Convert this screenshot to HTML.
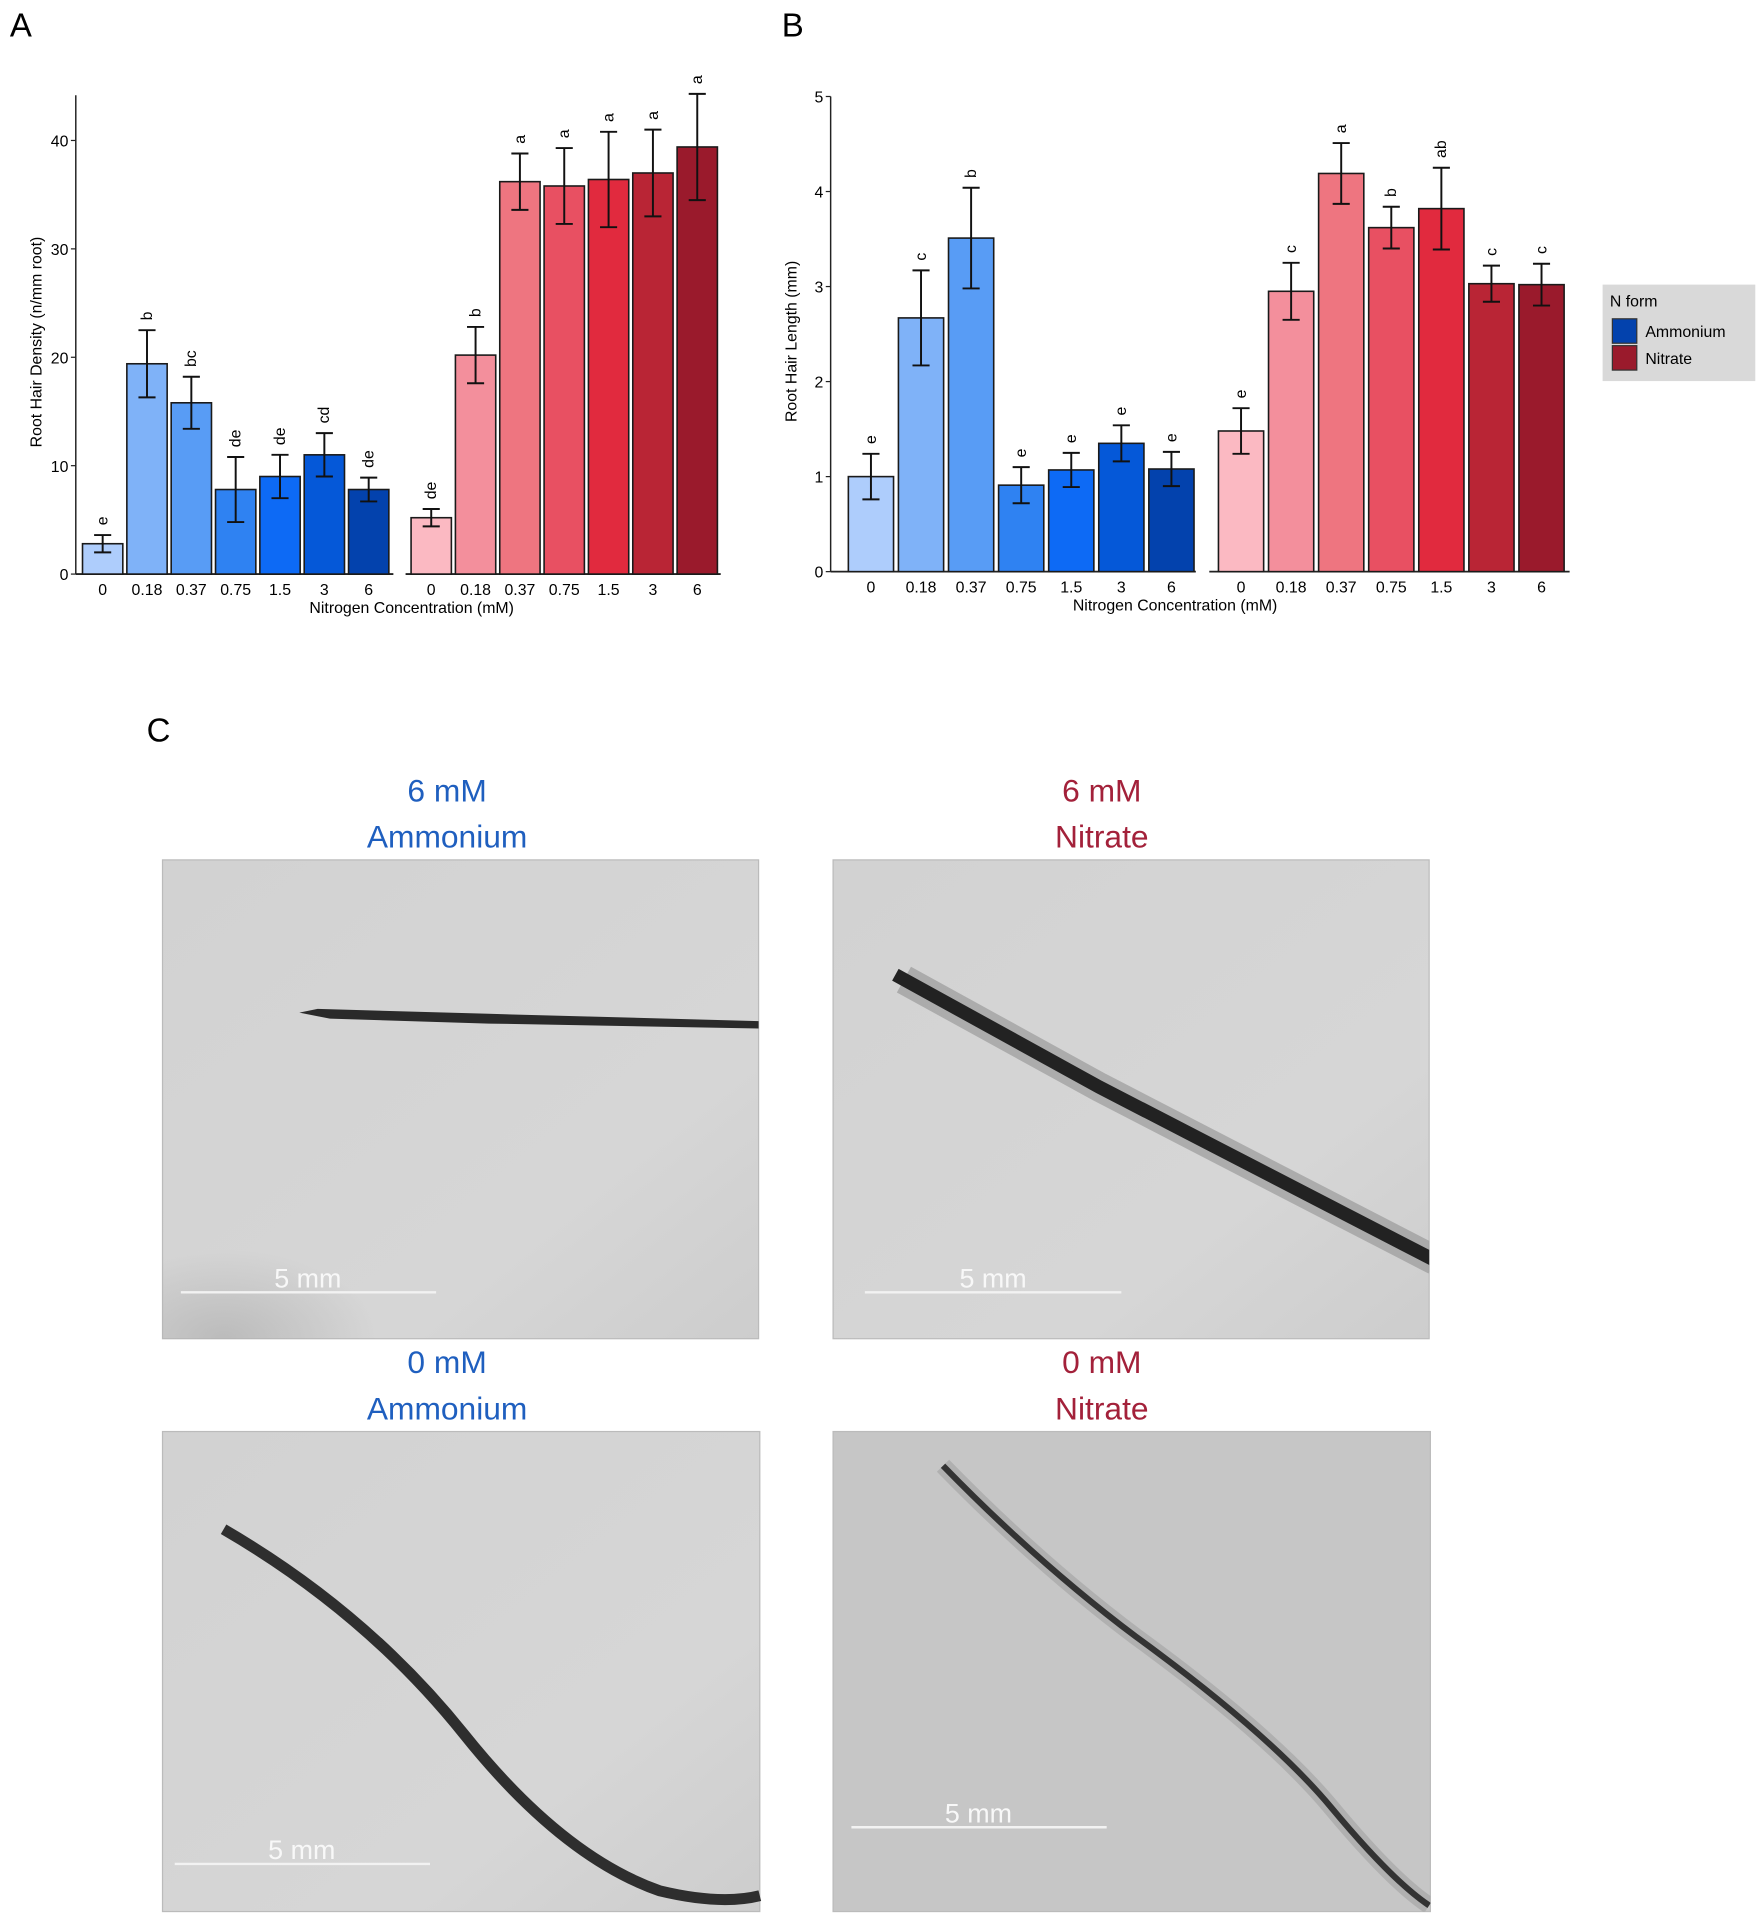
<!DOCTYPE html>
<html><head><meta charset="utf-8">
<style>
html,body{margin:0;padding:0;background:#fff;}
svg{display:block;font-family:"Liberation Sans",Arial,sans-serif;}
</style></head>
<body>
<svg id="fig" width="1759" height="1914" viewBox="0 0 1440 1567" xmlns="http://www.w3.org/2000/svg">
<defs>
<linearGradient id="bgL" x1="0" y1="0" x2="1" y2="1"><stop offset="0" stop-color="#d2d2d2"/><stop offset="0.7" stop-color="#d6d6d6"/><stop offset="1" stop-color="#cdcdcd"/></linearGradient>
<radialGradient id="shade" cx="0.2" cy="1" r="0.5"><stop offset="0" stop-color="#aaa" stop-opacity="0.6"/><stop offset="1" stop-color="#aaa" stop-opacity="0"/></radialGradient>
<clipPath id="clipNit"><rect x="682" y="704" width="488" height="392"/></clipPath>
<clipPath id="clipNit0"><rect x="682" y="1172" width="489" height="393"/></clipPath>
</defs>
<text x="8" y="30" font-size="27">A</text>
<text x="640" y="30" font-size="27">B</text>
<text x="120" y="607" font-size="27">C</text>
<g id="chartA"></g>
<g id="chartB"></g>
<g>
<rect x="1312" y="233" width="125" height="79" fill="#d9d9d9"/>
<text x="1318" y="251" font-size="13">N form</text>
<rect x="1320" y="261" width="20" height="20" fill="#0342ad" stroke="#333"/>
<text x="1347" y="276" font-size="13">Ammonium</text>
<rect x="1320" y="283" width="20" height="20" fill="#9a1a2c" stroke="#333"/>
<text x="1347" y="298" font-size="13">Nitrate</text>
</g>
<g font-size="26" text-anchor="middle">
<text x="366" y="656" fill="#1f5fbf">6 mM</text>
<text x="366" y="694" fill="#1f5fbf">Ammonium</text>
<text x="902" y="656" fill="#a3213a">6 mM</text>
<text x="902" y="694" fill="#a3213a">Nitrate</text>
<text x="366" y="1124" fill="#1f5fbf">0 mM</text>
<text x="366" y="1162" fill="#1f5fbf">Ammonium</text>
<text x="902" y="1124" fill="#a3213a">0 mM</text>
<text x="902" y="1162" fill="#a3213a">Nitrate</text>

<g>
<rect x="133" y="704" width="488" height="392" fill="url(#bgL)" stroke="#bbb"/>
<rect x="133" y="950" width="250" height="146" fill="url(#shade)"/>
<path d="M245 829 L260 826 L400 830 L621 836 L621 842 L400 838 L270 834 Z" fill="#2a2a2a"/>
<line x1="148" y1="1058" x2="357" y2="1058" stroke="#f2f2f2" stroke-width="2"/>
<text x="252" y="1054" fill="#f8f8f8" font-size="22">5 mm</text>
</g>
<g>
<rect x="682" y="704" width="488" height="392" fill="url(#bgL)" stroke="#bbb"/>
<g clip-path="url(#clipNit)">
<path d="M740 802 L900 890 L1175 1032" fill="none" stroke="#8a8a8a" stroke-width="24" stroke-opacity="0.55"/>
<path d="M733 798 L900 890 L1175 1032" fill="none" stroke="#222" stroke-width="11"/>
</g>
<line x1="708" y1="1058" x2="918" y2="1058" stroke="#f2f2f2" stroke-width="2"/>
<text x="813" y="1054" fill="#f8f8f8" font-size="22">5 mm</text>
</g>
<g>
<rect x="133" y="1172" width="489" height="393" fill="url(#bgL)" stroke="#bbb"/>
<path d="M183 1252 Q300 1320 380 1420 Q460 1520 540 1548 Q590 1560 622 1552" fill="none" stroke="#2e2e2e" stroke-width="9"/>
<line x1="143" y1="1526" x2="352" y2="1526" stroke="#f2f2f2" stroke-width="2"/>
<text x="247" y="1522" fill="#f8f8f8" font-size="22">5 mm</text>
</g>
<g>
<rect x="682" y="1172" width="489" height="393" fill="#c6c6c6" stroke="#bbb"/>
<g clip-path="url(#clipNit0)">
<path d="M772 1200 Q850 1280 930 1340 Q1040 1420 1090 1480 Q1140 1540 1170 1560" fill="none" stroke="#9a9a9a" stroke-width="14" stroke-opacity="0.5"/>
<path d="M772 1200 Q850 1280 930 1340 Q1040 1420 1090 1480 Q1140 1540 1170 1560" fill="none" stroke="#333" stroke-width="5"/>
</g>
<line x1="697" y1="1496" x2="906" y2="1496" stroke="#f2f2f2" stroke-width="2"/>
<text x="801" y="1492" fill="#f8f8f8" font-size="22">5 mm</text>
</g>
</g>
</svg>
<script>
const categories = ["0","0.18","0.37","0.75","1.5","3","6"];
const densityAmm = [2.8,19.4,15.8,7.8,9.0,11.0,7.8];
const densityAmmErr = [0.8,3.1,2.4,3.0,2.0,2.0,1.1];
const densityAmmLetters = ["e","b","bc","de","de","cd","de"];
const densityNit = [5.2,20.2,36.2,35.8,36.4,37.0,39.4];
const densityNitErr = [0.8,2.6,2.6,3.5,4.4,4.0,4.9];
const densityNitLetters = ["de","b","a","a","a","a","a"];
const densityTicks = [0,10,20,30,40];
const lengthAmm = [1.0,2.67,3.51,0.91,1.07,1.35,1.08];
const lengthAmmErr = [0.24,0.5,0.53,0.19,0.18,0.19,0.18];
const lengthAmmLetters = ["e","c","b","e","e","e","e"];
const lengthNit = [1.48,2.95,4.19,3.62,3.82,3.03,3.02];
const lengthNitErr = [0.24,0.3,0.32,0.22,0.43,0.19,0.22];
const lengthNitLetters = ["e","c","a","b","ab","c","c"];
const lengthTicks = [0,1,2,3,4,5];
const blues = ["#aecdfc","#7fb2f8","#589cf5","#2f82f2","#0d6af5","#0558d8","#0342ad"];
const reds = ["#fbb9c2","#f38f9c","#ee7580","#e85062","#e12a3e","#b92535","#9a1a2c"];
const NS="http://www.w3.org/2000/svg";
function mk(parent,tag,attrs,text){const e=document.createElementNS(NS,tag);for(const k in attrs)e.setAttribute(k,attrs[k]);if(text!==undefined)e.textContent=text;parent.appendChild(e);return e;}

function drawChart(g,cfg){
  const y=v=>cfg.y0-(v-0)*(cfg.y0-cfg.yTop)/cfg.yMaxTick;
  mk(g,'line',{x1:cfg.ax,y1:cfg.axisTop,x2:cfg.ax,y2:cfg.y0,stroke:'#222','stroke-width':1.2});
  cfg.ticks.forEach(t=>{
    mk(g,'line',{x1:cfg.ax-4,y1:y(t),x2:cfg.ax,y2:y(t),stroke:'#222'});
    const tt=mk(g,'text',{x:cfg.ax-6,y:y(t)+5,'font-size':13,'text-anchor':'end'},String(t));
    
    
  });
  const yl=mk(g,'text',{x:0,y:0,'font-size':13,'text-anchor':'middle',transform:`translate(${cfg.ax-28},${(cfg.y0+cfg.axisTop)/2+6}) rotate(-90)`},cfg.ylabel);
  
  
  const xl=mk(g,'text',{x:cfg.xlx,y:cfg.y0+32,'font-size':13,'text-anchor':'middle'},'Nitrogen Concentration (mM)');
  
  
  cfg.groups.forEach((grp,gi)=>{
    mk(g,'line',{x1:grp.segStart,y1:cfg.y0,x2:grp.segEnd,y2:cfg.y0,stroke:'#222','stroke-width':1.5});
    const xc=i=>grp.x0+i*cfg.step;
    grp.vals.forEach((v,i)=>{
      const cx=xc(i);
      const r=mk(g,'rect',{x:cx-cfg.bw/2,y:y(v),width:cfg.bw,height:cfg.y0-y(v),fill:grp.colors[i],stroke:'#1a1a1a','stroke-width':1.3});
      
      
      const hi=v+grp.err[i], lo=v-grp.err[i];
      const eb=mk(g,'path',{d:`M${cx} ${y(hi)}V${y(lo)}M${cx-7} ${y(hi)}H${cx+7}M${cx-7} ${y(lo)}H${cx+7}`,stroke:'#111','stroke-width':1.6,fill:'none'});
      
      
      const ly=y(hi)-8;
      const lt=mk(g,'text',{x:0,y:0,'font-size':13,transform:`translate(${cx+4},${ly}) rotate(-90)`},grp.letters[i]);
      
      
      const tl=mk(g,'text',{x:cx,y:cfg.y0+17,'font-size':13,'text-anchor':'middle'},categories[i]);
      
      
    });
  });
}
drawChart(document.getElementById('chartA'),{
  ax:62,axisTop:78,y0:470,yTop:115,yMaxTick:40,ticks:densityTicks,step:36.3,bw:33,
  ylabel:'Root Hair Density (n/mm root)',xlx:337,
  groups:[
    {name:'ammonium',x0:84,segStart:62,segEnd:322,vals:densityAmm,err:densityAmmErr,letters:densityAmmLetters,colors:blues},
    {name:'nitrate',x0:353,segStart:332,segEnd:590,vals:densityNit,err:densityNitErr,letters:densityNitLetters,colors:reds}
  ]});
drawChart(document.getElementById('chartB'),{
  ax:680,axisTop:79,y0:468,yTop:79,yMaxTick:5,ticks:lengthTicks,step:41,bw:37,
  ylabel:'Root Hair Length (mm)',xlx:962,
  groups:[
    {name:'ammonium',x0:713,segStart:680,segEnd:979,vals:lengthAmm,err:lengthAmmErr,letters:lengthAmmLetters,colors:blues},
    {name:'nitrate',x0:1016,segStart:990,segEnd:1285,vals:lengthNit,err:lengthNitErr,letters:lengthNitLetters,colors:reds}
  ]});
</script>
</body></html>
